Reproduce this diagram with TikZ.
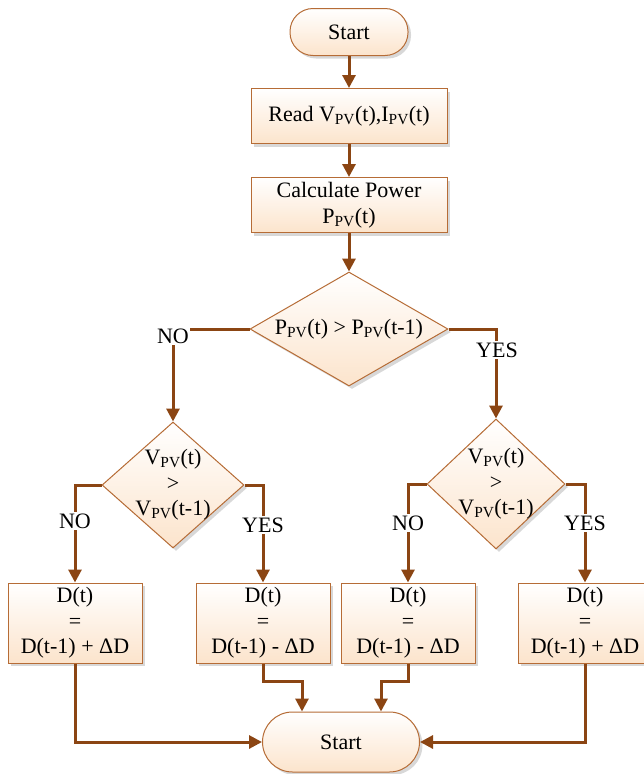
\documentclass[tikz,border=0pt]{standalone}
\usepackage{fontspec}
\setmainfont{Liberation Serif}
\usetikzlibrary{shapes.geometric,arrows.meta,shadows}
\definecolor{linec}{RGB}{139,69,19}
\definecolor{edgec}{RGB}{182,108,54}
\definecolor{fillb}{RGB}{252,228,204}
\newcommand\sPV{\textsubscript{PV}}
\begin{document}
\begin{tikzpicture}[x=1pt,y=-1pt, font=\fontsize{22}{25.5}\selectfont,
 box/.style={draw=edgec, line width=1pt, top color=white, bottom color=fillb, inner sep=0pt, align=center,
   drop shadow={shadow xshift=3pt,shadow yshift=-3pt,fill=black!30,opacity=.5}},
 dia/.style={box, diamond, aspect=1},
 arr/.style={draw=linec, line width=3pt, -{Triangle[length=13pt,width=13pt]}},
 lbl/.style={fill=white, inner sep=1.5pt}]
\useasboundingbox (0,0) rectangle (644,774);
\node[box, rounded corners=23pt, minimum width=118pt, minimum height=47pt] (start) at (349,32) {Start};
\node[box, minimum width=196pt, minimum height=55pt] (read) at (349,116) {Read V\sPV(t),I\sPV(t)};
\node[box, minimum width=196pt, minimum height=55pt] (calc) at (349,205) {Calculate Power\\P\sPV(t)};
\node[dia, minimum width=198pt, minimum height=114pt, label={center:P\sPV(t) > P\sPV(t-1)}] (d1) at (349,329) {};
\node[dia, minimum width=142pt, minimum height=126pt, label={[align=center]center:V\sPV(t)\\>\\V\sPV(t-1)}] (d2) at (173,485) {};
\node[dia, minimum width=138pt, minimum height=130pt, label={[align=center]center:V\sPV(t)\\>\\V\sPV(t-1)}] (d3) at (496,484) {};
\node[box, minimum width=134pt, minimum height=80pt] (b1) at (75,623) {D(t)\\=\\D(t-1) + ΔD};
\node[box, minimum width=134pt, minimum height=80pt] (b2) at (263,623) {D(t)\\=\\D(t-1) - ΔD};
\node[box, minimum width=134pt, minimum height=80pt] (b3) at (408,623) {D(t)\\=\\D(t-1) - ΔD};
\node[box, minimum width=134pt, minimum height=80pt] (b4) at (585,623) {D(t)\\=\\D(t-1) + ΔD};
\node[box, rounded corners=30pt, minimum width=157pt, minimum height=60pt] (stop) at (341,742) {Start};
\draw[arr] (start.south) -- (read.north);
\draw[arr] (read.south) -- (calc.north);
\draw[arr] (calc.south) -- (d1.north);
\draw[arr] (d1.west) -| (d2.north);
\draw[arr] (d1.east) -| (d3.north);
\draw[arr] (d2.west) -| (b1.north);
\draw[arr] (d2.east) -| (b2.north);
\draw[arr] (d3.west) -| (b3.north);
\draw[arr] (d3.east) -| (b4.north);
\draw[arr] (b1.south) |- (stop.west);
\draw[arr] (b4.south) |- (stop.east);
\draw[arr] (b2.south) -- ++(0,18) -| ([xshift=-39pt]stop.north);
\draw[arr] (b3.south) -- ++(0,18) -| ([xshift=40pt]stop.north);
\node[lbl] (no1) at (173,336) {NO};
\node[lbl] (yes1) at (497,350) {YES};
\node[lbl] (no2) at (75,521) {NO};
\node[lbl] (yes2) at (263,525) {YES};
\node[lbl] (no3) at (408,523) {NO};
\node[lbl] (yes3) at (585,523) {YES};
\end{tikzpicture}
\end{document}
